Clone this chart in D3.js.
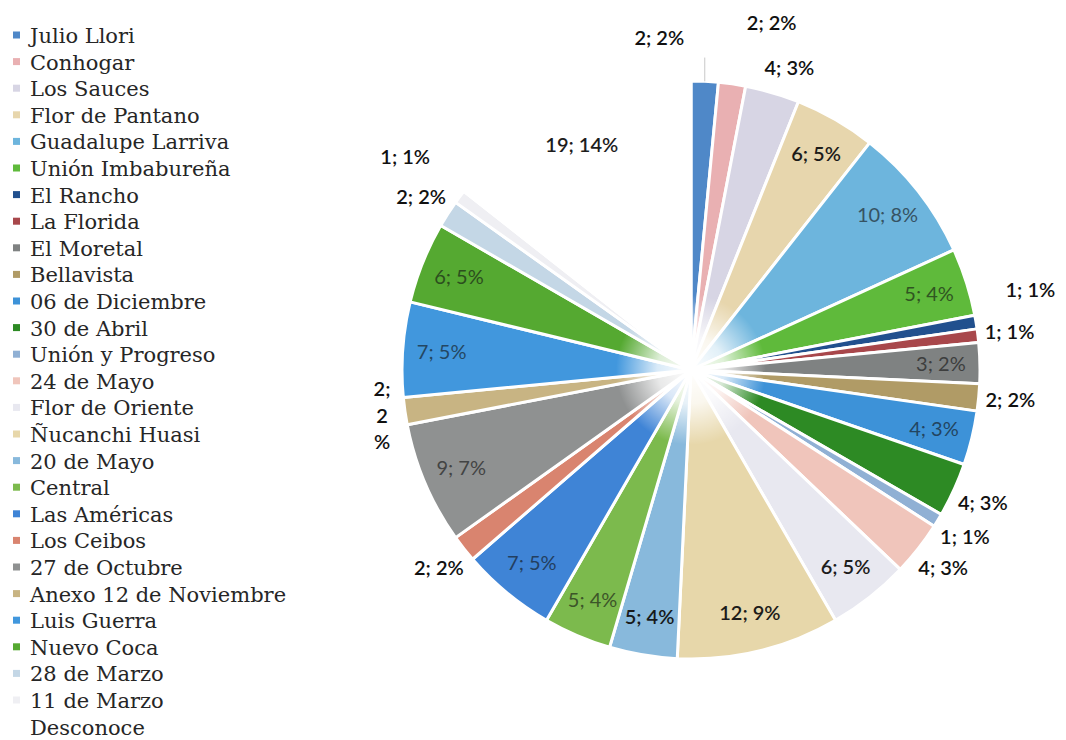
<!DOCTYPE html>
<html>
<head>
<meta charset="utf-8">
<script src="https://cdn.jsdelivr.net/npm/d3@7"></script>
<style>
  body { margin: 0; background: #fff; }
  svg { display: block; }
</style>
</head>
<body>
<div id="chart"></div>
<script>
// barrios / comunidades, in the order of the legend and of the slices (clockwise from 12 o'clock)
var categories = ["Julio Llori", "Conhogar", "Los Sauces", "Flor de Pantano", "Guadalupe Larriva",
    "Unión Imbabureña", "El Rancho", "La Florida", "El Moretal", "Bellavista", "06 de Diciembre",
    "30 de Abril", "Unión y Progreso", "24 de Mayo", "Flor de Oriente", "Ñucanchi Huasi",
    "20 de Mayo", "Central", "Las Américas", "Los Ceibos", "27 de Octubre",
    "Anexo 12 de Noviembre", "Luis Guerra", "Nuevo Coca", "28 de Marzo", "11 de Marzo", "Desconoce"];

var counts = [2, 2, 4, 6, 10, 5, 1, 1, 3, 2, 4, 4, 1, 4, 6, 12, 5, 5, 7, 2, 9, 2, 7, 6, 2, 1, 19];

var percents = [2, 2, 3, 5, 8, 4, 1, 1, 2, 2, 3, 3, 1, 3, 5, 9, 4, 4, 5, 2, 7, 2, 5, 5, 2, 1, 14];

var colors = ["#4f88c8", "#e9b0b2", "#d7d5e4", "#e7d6ad", "#6db5dd", "#5fba3b", "#21508e",
    "#a8474b", "#7f8282", "#b09b66", "#3d92d8", "#2d8a24", "#90b0d4", "#f0c5bb", "#e8e8f0",
    "#e7d7aa", "#88b9dc", "#7cba4d", "#3f84d6", "#d9846f", "#8f9191", "#c8b483", "#4197dd",
    "#55a931", "#c4d7e6", "#efeff3", "#ffffff"];

// which labels sit inside their slice
var insideLabels = ["Flor de Pantano", "Guadalupe Larriva", "Unión Imbabureña", "El Moretal",
    "06 de Diciembre", "Flor de Oriente", "Ñucanchi Huasi", "20 de Mayo", "Central",
    "Las Américas", "27 de Octubre", "Luis Guerra", "Nuevo Coca", "Desconoce"];

// labels that were moved by hand in the original to avoid overlaps
var labelNudge = {
    "Julio Llori": [-47, -12],
    "Conhogar": [35, -29],
    "Los Sauces": [8, 6],
    "El Rancho": [23, -27],
    "11 de Marzo": [-29, -21]
};

var width = 1066, height = 740;
var cx = 691, cy = 370, radius = 289;
var plotLeft = 372;

var svg = d3.select("#chart")
    .append("svg")
        .attr("width", width)
        .attr("height", height);

var color = d3.scaleOrdinal()
    .domain(categories)
    .range(colors);

var data = categories.map(function(c, i) {
    return {name: c, value: counts[i], pct: percents[i]};
});

var pie = d3.pie().sort(null).value(function(d) { return d.value; });
var arc = d3.arc().innerRadius(0).outerRadius(radius);
var inArc = d3.arc().innerRadius(radius * 0.865).outerRadius(radius * 0.865);
var outArc = d3.arc().innerRadius(radius * 1.11).outerRadius(radius * 1.11);
var edgeArc = d3.arc().innerRadius(radius).outerRadius(radius);
var arcs = pie(data);

var g = svg.append("g")
    .attr("transform", "translate(" + cx + "," + cy + ")");

g.selectAll("path.slice")
    .data(arcs)
    .enter()
    .append("path")
    .attr("class", "slice")
    .attr("d", arc)
    .attr("fill", function(d) { return color(d.data.name); })
    .attr("stroke", "#fff")
    .attr("stroke-width", 3)
    .attr("stroke-linejoin", "round");

// the glare in the middle of the photographed chart
var defs = svg.append("defs");
var grad = defs.append("radialGradient").attr("id", "glare");
grad.append("stop").attr("offset", "0%").attr("stop-color", "#fff").attr("stop-opacity", 1);
grad.append("stop").attr("offset", "45%").attr("stop-color", "#fff").attr("stop-opacity", 0.8);
grad.append("stop").attr("offset", "100%").attr("stop-color", "#fff").attr("stop-opacity", 0);
g.append("circle").attr("r", 75).attr("fill", "url(#glare)");

// data labels
var labels = svg.append("g").attr("class", "labels");

arcs.forEach(function(d) {
    var name = d.data.name;
    var inside = insideLabels.indexOf(name) >= 0;
    var p = (inside ? inArc : outArc).centroid(d);
    var nudge = labelNudge[name] || [0, 0];
    var x = cx + p[0] + nudge[0];
    var y = cy + p[1] + nudge[1];

    var fill = "#111";
    var weight = 600;
    if (inside) {
        var c = color(name);
        var light = d3.hsl(c).l > 0.68;
        fill = d3.interpolateRgb(c, "#111")(light ? 0.95 : 0.6);
        weight = light ? 600 : 400;
    }

    var txt = labels.append("text")
        .attr("x", x)
        .attr("y", y)
        .attr("dy", "0.35em")
        .attr("text-anchor", "middle")
        .style("font-family", "Lato, 'Open Sans', sans-serif")
        .style("font-size", "20px")
        .style("font-weight", weight)
        .attr("fill", fill)
        .text(d.data.value + "; " + d.data.pct + "%");

    var w = txt.node().getComputedTextLength();
    if (!inside && x - w / 2 < plotLeft) {
        // not enough room: wrap the label like the original did
        var parts = [d.data.value + ";", String(d.data.pct), "%"];
        txt.text(null).attr("dy", null);
        var lineH = 26.5;
        var x2 = Math.max(x, plotLeft + 10);
        parts.forEach(function(s, k) {
            txt.append("tspan")
                .attr("x", x2)
                .attr("y", y + (k - 1) * lineH)
                .attr("dy", "0.35em")
                .text(s);
        });
    }

    if (name === "Julio Llori") {
        var e = edgeArc.centroid(d);
        labels.append("line")
            .attr("x1", cx + e[0]).attr("y1", cy + e[1])
            .attr("x2", cx + e[0]).attr("y2", y + 20)
            .attr("stroke", "#c8c8c8")
            .attr("stroke-width", 1);
    }
});

// legend
var legendTop = 36, rowH = 26.6;
var rows = svg.append("g")
    .attr("class", "legend")
    .selectAll("g")
    .data(categories)
    .enter()
    .append("g")
    .attr("transform", function(d, i) { return "translate(0," + (legendTop + i * rowH) + ")"; });

rows.append("rect")
    .attr("x", 13)
    .attr("y", -4.5)
    .attr("width", 7)
    .attr("height", 7)
    .attr("fill", function(d) { return color(d); });

rows.append("text")
    .attr("x", 30)
    .attr("y", 7)
    .style("font-family", "'DejaVu Serif', serif")
    .style("font-size", "21px")
    .attr("fill", "#262626")
    .text(function(d) { return d; });
</script>
</body>
</html>
